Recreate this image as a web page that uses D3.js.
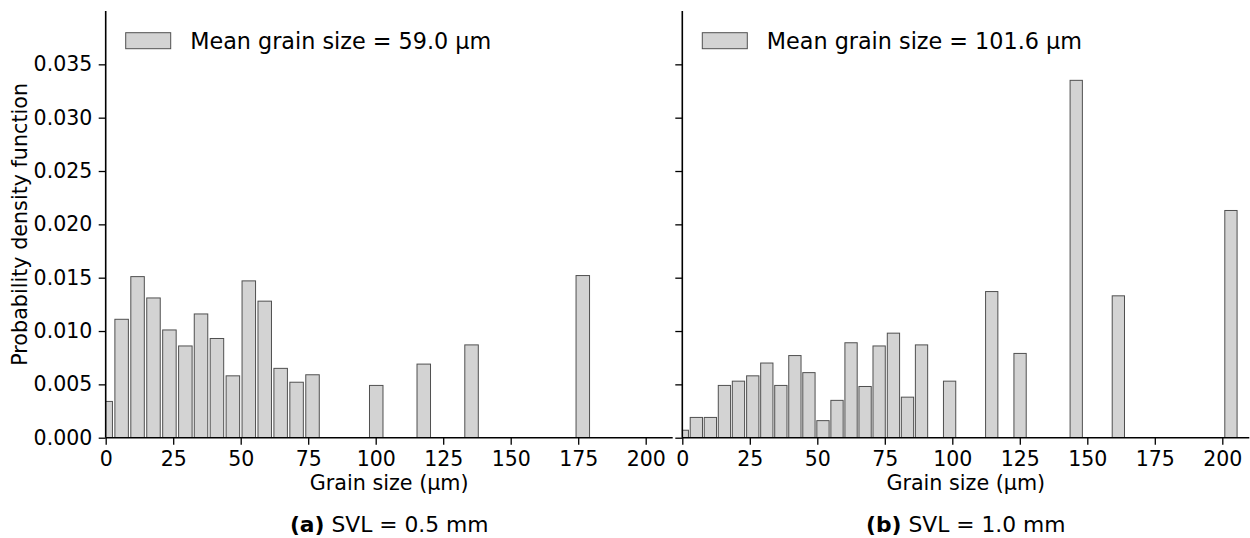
<!DOCTYPE html>
<html>
<head>
<meta charset="utf-8">
<script src="https://cdn.jsdelivr.net/npm/d3@7"></script>
<style>
  body { margin: 0; background: #fff; }
  svg text { font-family: "DejaVu Sans", sans-serif; fill: #000; }
</style>
</head>
<body>
<svg id="chart" width="1250" height="538"></svg>
<script>
// bin centres (µm) and density values
var leftBins = [0, 5.9, 11.8, 17.7, 23.6, 29.5, 35.3, 41.2, 47.1, 53.0, 58.9, 64.8, 70.7, 76.6, 100.2, 117.8, 135.5, 176.7]
var leftValues = [0.0034, 0.0111, 0.0151, 0.0131, 0.0101, 0.0086, 0.0116, 0.0093, 0.0058, 0.0147, 0.0128, 0.0065, 0.0052, 0.0059, 0.0049, 0.0069, 0.0087, 0.0152]

var rightBins = [0, 5.2, 10.4, 15.6, 20.8, 26.1, 31.3, 36.5, 41.7, 46.9, 52.1, 57.3, 62.5, 67.7, 72.9, 78.2, 83.4, 88.6, 99.0, 114.6, 125.1, 145.9, 161.5, 203.2]
var rightValues = [0.0007, 0.0019, 0.0019, 0.0049, 0.0053, 0.0058, 0.0070, 0.0049, 0.0077, 0.0061, 0.0016, 0.0035, 0.0089, 0.0048, 0.0086, 0.0098, 0.0038, 0.0087, 0.0053, 0.0137, 0.0079, 0.0335, 0.0133, 0.0213]

var xTicks = [0, 25, 50, 75, 100, 125, 150, 175, 200]
var yTicks = [0, 0.005, 0.010, 0.015, 0.020, 0.025, 0.030, 0.035]

var legendLabels = ["Mean grain size = 59.0 \u00b5m", "Mean grain size = 101.6 \u00b5m"]
var captionTags = ["(a)", "(b)"]
var captionTexts = [" SVL = 0.5 mm", " SVL = 1.0 mm"]

var panels = [
	{bins: leftBins, values: leftValues, barW: 5.0, left: 105.7, showY: true},
	{bins: rightBins, values: rightValues, barW: 4.55, left: 682.3, showY: false}
]

var svg = d3.select("#chart")
var plotTop = 11, plotBottom = 437.7, plotW = 567
var fontSize = 20.5

var y = d3.scaleLinear().domain([0, 0.04]).range([plotBottom, plotTop])

panels.forEach(function(p, i) {
	var x = d3.scaleLinear().domain([0, 210]).range([p.left, p.left + plotW])

	svg.append("clipPath")
		.attr("id", "clip" + i)
		.append("rect")
		.attr("x", p.left)
		.attr("y", plotTop)
		.attr("width", plotW)
		.attr("height", plotBottom - plotTop)

	var data = p.bins.map(function(b, j) { return {c: b, v: p.values[j]} })

	svg.append("g")
		.attr("clip-path", "url(#clip" + i + ")")
		.selectAll("rect")
		.data(data)
		.join("rect")
		.attr("x", function(d) { return x(d.c - p.barW / 2) })
		.attr("width", function(d) { return x(p.barW) - x(0) })
		.attr("y", function(d) { return y(d.v) })
		.attr("height", function(d) { return y(0) - y(d.v) })
		.attr("fill", "#d3d3d3")
		.attr("stroke", "#505050")
		.attr("stroke-width", 1)

	// x axis
	var xa = svg.append("g")
		.attr("transform", "translate(0," + plotBottom + ")")
		.call(d3.axisBottom(x).tickValues(xTicks).tickSize(7).tickPadding(7).tickFormat(d3.format("d")))
	xa.select(".domain").remove()
	xa.append("line")
		.attr("x1", p.left).attr("x2", p.left + plotW)
		.attr("stroke", "#000").attr("stroke-width", 1.6)

	// y axis
	var ya = svg.append("g")
		.attr("transform", "translate(" + p.left + ",0)")
		.call(d3.axisLeft(y).tickValues(yTicks).tickSize(7).tickPadding(6.4).tickFormat(p.showY ? d3.format(".3f") : ""))
	ya.select(".domain").remove()
	ya.append("line")
		.attr("y1", plotTop).attr("y2", plotBottom)
		.attr("stroke", "#000").attr("stroke-width", 1.6)

	svg.selectAll(".tick line").attr("stroke", "#000").attr("stroke-width", 1.3)
	svg.selectAll(".tick text").attr("font-size", fontSize).attr("font-family", "DejaVu Sans")

	// legend
	svg.append("rect")
		.attr("x", p.left + 20).attr("y", 32.7)
		.attr("width", 45).attr("height", 16)
		.attr("fill", "#d3d3d3").attr("stroke", "#505050").attr("stroke-width", 1)
	svg.append("text")
		.attr("x", p.left + 84.5).attr("y", 49.3)
		.style("font-size", "22.3px")
		.text(legendLabels[i])

	var cx = p.left + plotW / 2
	svg.append("text")
		.attr("x", cx).attr("y", 490)
		.attr("text-anchor", "middle")
		.style("font-size", "20.7px")
		.text("Grain size (\u00b5m)")

	var cap = svg.append("text")
		.attr("x", cx).attr("y", 531.7)
		.attr("text-anchor", "middle")
		.style("font-size", "21.8px")
	cap.append("tspan").attr("font-weight", "bold").text(captionTags[i])
	cap.append("tspan").text(captionTexts[i])
})

svg.append("text")
	.attr("transform", "translate(26.5," + (plotTop + plotBottom) / 2 + ") rotate(-90)")
	.attr("text-anchor", "middle")
	.style("font-size", "20.7px")
	.text("Probability density function")
</script>
</body>
</html>
